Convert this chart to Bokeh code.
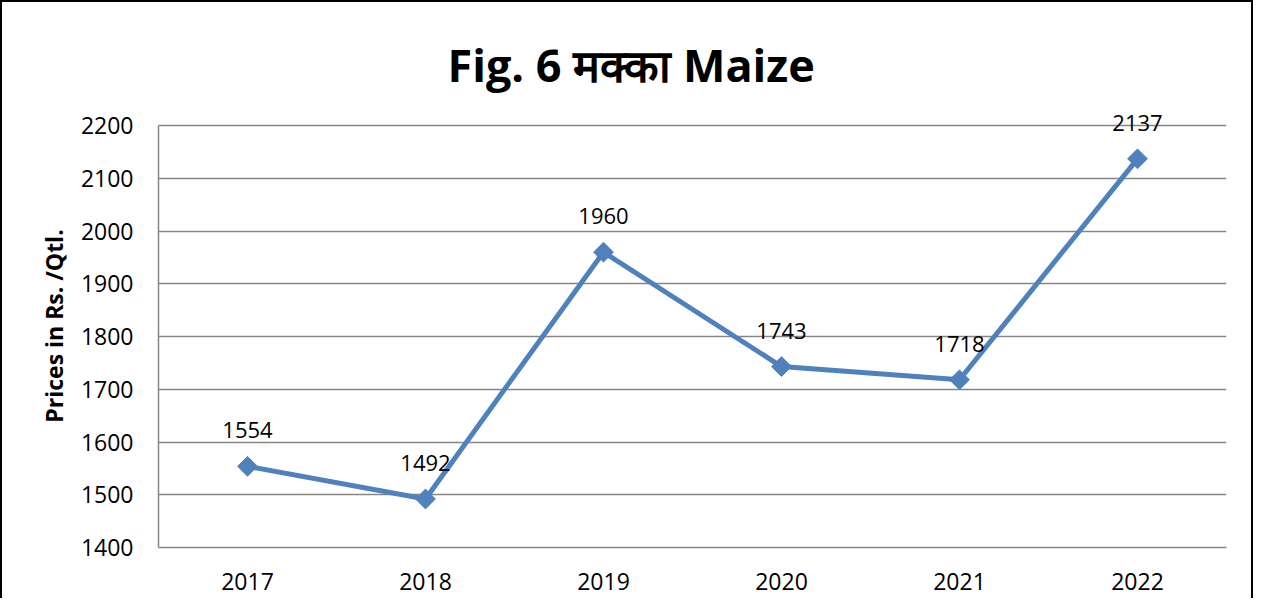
import math
from bokeh.plotting import figure
from bokeh.models import ColumnDataSource, LabelSet, FixedTicker, Range1d
from bokeh.core.properties import value
from bokeh.embed import file_html
from bokeh.resources import INLINE

years = ["2017", "2018", "2019", "2020", "2021", "2022"]
prices = [1554, 1492, 1960, 1743, 1718, 2137]
y_ticks = [1400, 1500, 1600, 1700, 1800, 1900, 2000, 2100, 2200]
title_text = "Fig. 6 मक्का Maize"
y_label = "Prices in Rs. /Qtl."

LINE = "#4F81BD"
GRID = "#868686"
FONT = "Open Sans"

src = ColumnDataSource(dict(x=years, y=prices, lbl=[str(v) for v in prices]))

# headroom above the top tick so the data label of the highest point is not clipped
y_top = y_ticks[-1] + 40

p = figure(x_range=years, y_range=Range1d(y_ticks[0], y_top),
           width=1253, height=598, output_backend="svg", toolbar_location=None,
           min_border_left=156, min_border_right=29, min_border_top=102, min_border_bottom=53)
p.styles = {"border-left": "2px solid black", "border-top": "2px solid black",
            "border-right": "2px solid black", "box-sizing": "border-box"}

p.title.text = title_text
p.title.align = "left"
p.title.text_font = FONT
p.title.text_font_size = "45px"
p.title.text_font_style = "bold"
p.title.text_color = "black"
p.title.offset = 289
p.title.standoff = 20

p.outline_line_color = None
p.background_fill_color = "white"
p.border_fill_color = "white"

p.line("x", "y", source=src, line_color=LINE, line_width=5)
p.scatter("x", "y", source=src, marker="square", angle=math.pi / 4, size=14,
          fill_color=LINE, line_color=LINE)

labels = LabelSet(x="x", y="y", text="lbl", source=src, y_offset=36,
                  text_align="center", text_baseline="middle",
                  text_font=value(FONT), text_font_size="22px", text_color="black")
p.add_layout(labels)

p.yaxis.ticker = FixedTicker(ticks=y_ticks)
p.yaxis.bounds = (y_ticks[0], y_ticks[-1])
for ax in (p.xaxis[0], p.yaxis[0]):
    ax.axis_line_color = GRID
    ax.axis_line_width = 1.5
    ax.major_tick_line_color = None
    ax.minor_tick_line_color = None
    ax.major_tick_out = 0
    ax.major_tick_in = 0
    ax.major_label_text_font = FONT
    ax.major_label_text_font_size = "23px"
    ax.major_label_text_color = "black"

p.yaxis.major_label_standoff = 25
p.xaxis.major_label_standoff = 25
p.yaxis.axis_label = y_label
p.yaxis.axis_label_text_font = FONT
p.yaxis.axis_label_text_font_size = "23px"
p.yaxis.axis_label_text_font_style = "bold"
p.yaxis.axis_label_text_color = "black"
p.yaxis.axis_label_standoff = 8

p.xgrid.grid_line_color = None
p.ygrid.grid_line_color = GRID
p.ygrid.grid_line_width = 1.5

open("out.html", "w").write(file_html(p, INLINE))
